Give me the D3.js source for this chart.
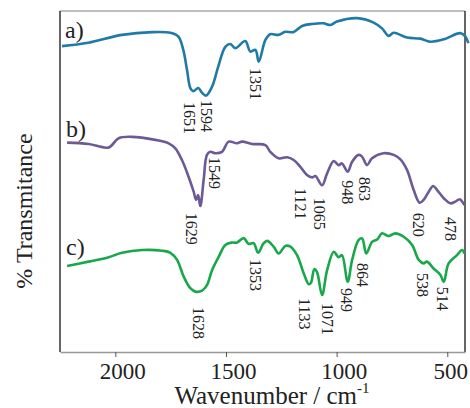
<!DOCTYPE html>
<html>
<head>
<meta charset="utf-8">
<script src="https://cdn.jsdelivr.net/npm/d3@7"></script>
<style>
body { margin: 0; background: #fff; }
text { font-family: "Liberation Serif", "Times New Roman", serif; fill: #222; }
</style>
</head>
<body>
<div id="chart"></div>
<script>
// wavenumber (cm-1) and transmittance (stacked, arbitrary %)
var waveA = [2241, 2122, 1970, 1834, 1751, 1715, 1693, 1676, 1661, 1648, 1625, 1608, 1590, 1563, 1535, 1503, 1480, 1458, 1413, 1390, 1367, 1352, 1322, 1300, 1263, 1232, 1196, 1156, 1111, 1060, 1028, 998, 908, 833, 795, 765, 742, 682, 622, 577, 516, 441, 418, 405];
var transA = [89.7, 90.7, 93.0, 93.8, 93.6, 92.5, 88.6, 82.7, 77.4, 76.5, 77.4, 76.0, 75.2, 77.8, 83.7, 89.5, 90.3, 89.1, 91.2, 88.1, 88.6, 85.1, 91.5, 93.2, 93.0, 93.9, 93.8, 95.6, 96.2, 96.4, 95.9, 96.9, 97.9, 96.6, 94.9, 92.7, 93.6, 92.2, 91.9, 91.0, 91.7, 93.5, 92.5, 90.6];

var waveB = [2218, 2121, 2030, 1985, 1925, 1819, 1759, 1729, 1699, 1669, 1646, 1635, 1626, 1616, 1601, 1586, 1571, 1548, 1518, 1488, 1450, 1427, 1382, 1322, 1300, 1262, 1224, 1194, 1164, 1134, 1111, 1096, 1066, 1043, 1013, 991, 976, 950, 930, 901, 885, 863, 840, 788, 742, 712, 682, 652, 625, 607, 584, 564, 546, 516, 486, 464, 444, 423];
var transB = [61.4, 61.0, 60.0, 62.7, 63.1, 62.2, 61.2, 59.7, 56.3, 51.4, 47.0, 44.6, 46.0, 42.8, 50.4, 57.8, 58.7, 58.3, 58.7, 61.7, 61.2, 61.7, 61.0, 60.7, 58.7, 56.8, 57.1, 56.3, 54.3, 51.9, 51.2, 51.6, 48.9, 52.4, 56.0, 54.8, 55.3, 52.9, 55.8, 57.8, 57.3, 54.8, 56.8, 58.3, 57.8, 56.5, 53.4, 47.5, 43.8, 44.6, 47.0, 48.7, 47.5, 45.1, 43.6, 44.1, 44.8, 43.1];

var waveC = [2218, 2121, 2030, 1970, 1879, 1789, 1751, 1721, 1691, 1661, 1638, 1608, 1586, 1563, 1533, 1503, 1473, 1450, 1420, 1398, 1375, 1355, 1330, 1314, 1285, 1262, 1232, 1209, 1179, 1149, 1126, 1116, 1101, 1089, 1066, 1043, 1013, 991, 976, 950, 930, 901, 885, 866, 840, 817, 795, 765, 735, 697, 659, 629, 607, 592, 562, 531, 516, 494, 456, 433, 423];
var transC = [25.2, 26.5, 27.8, 29.1, 29.9, 29.7, 29.1, 27.0, 22.1, 18.7, 17.7, 18.0, 19.6, 24.0, 27.9, 31.4, 32.1, 32.1, 33.4, 31.7, 31.9, 29.1, 31.9, 32.6, 30.9, 28.9, 31.1, 30.9, 28.4, 23.1, 19.9, 20.3, 24.3, 23.5, 16.7, 24.0, 29.4, 27.8, 28.4, 20.6, 27.0, 32.8, 33.3, 28.9, 32.3, 33.0, 34.8, 34.0, 34.8, 33.8, 31.4, 27.0, 26.0, 26.5, 24.5, 22.6, 20.6, 26.0, 28.4, 29.9, 28.9];

var seriesNames = ["a)", "b)", "c)"];
var seriesColors = ["#1f7aa6", "#6c5a96", "#18a84b"];

// peak annotations: text, wavenumber at label centre, transmittance at label top
var peaksA = [["1651", 1666, 73.3], ["1594", 1589, 73.9], ["1351", 1367, 83.3]];
var peaksB = [["1629", 1657, 40.8], ["1549", 1553, 57.2], ["1121", 1164, 48.1], ["1065", 1078, 45.2], ["948", 952, 50.4], ["863", 875, 51.3], ["620", 631, 40.8], ["478", 486, 39.6]];
var peaksC = [["1628", 1625, 13.2], ["1353", 1367, 27.3], ["1133", 1146, 15.8], ["1071", 1042, 14.4], ["949", 956, 18.8], ["864", 884, 26.1], ["538", 613, 23.2], ["514", 522, 19.1]];

var xTicks = [2000, 1500, 1000, 500];

var width = 470, height = 408;
var mLeft = 60, mRight = 465, mTop = 11, mBottom = 352;

var svg = d3.select("#chart").append("svg")
	.attr("width", width)
	.attr("height", height);

var x = d3.scaleLinear().domain([2250, 420]).range([mLeft, mRight]);
var y = d3.scaleLinear().domain([0, 100]).range([mBottom, mTop]);

// frame
svg.append("line").attr("x1", mLeft).attr("x2", mRight).attr("y1", mTop).attr("y2", mTop)
	.attr("stroke", "#aaa").attr("stroke-width", 1.5);
svg.append("line").attr("x1", mLeft).attr("x2", mLeft).attr("y1", mTop).attr("y2", mBottom)
	.attr("stroke", "#333").attr("stroke-width", 1.5);
svg.append("line").attr("x1", mRight).attr("x2", mRight).attr("y1", mTop).attr("y2", mBottom)
	.attr("stroke", "#333").attr("stroke-width", 1.5);

var xAxis = svg.append("g")
	.attr("transform", "translate(0," + mBottom + ")")
	.call(d3.axisBottom(x).tickValues(xTicks).tickFormat(d3.format("d"))
		.tickSize(5).tickSizeOuter(0).tickPadding(6));
xAxis.select(".domain").attr("stroke", "#999").attr("stroke-width", 1.5);
xAxis.selectAll(".tick line").attr("stroke", "#555");
xAxis.selectAll(".tick text")
	.attr("font-size", 23)
	.attr("font-family", "Liberation Serif, serif")
	.attr("fill", "#222")
	.attr("dx", function(d) { return d < 1000 ? 3 : 7; });

// axis titles
var xt = svg.append("text")
	.attr("x", 272).attr("y", 404)
	.attr("text-anchor", "middle")
	.attr("font-size", 25);
xt.append("tspan").text("Wavenumber / cm");
xt.append("tspan").text("-1").attr("font-size", 15).attr("dy", -11);

svg.append("text")
	.attr("transform", "translate(32,211) rotate(-90)")
	.attr("text-anchor", "middle")
	.attr("font-size", 24)
	.text("% Transmitance");

// spectra
var line = d3.line()
	.x(function(d) { return x(d[0]); })
	.y(function(d) { return y(d[1]); })
	.curve(d3.curveCatmullRom.alpha(0.5));

var spectra = [d3.zip(waveA, transA), d3.zip(waveB, transB), d3.zip(waveC, transC)];

svg.selectAll("path.spectrum")
	.data(spectra)
	.enter().append("path")
	.attr("class", "spectrum")
	.attr("d", line)
	.attr("fill", "none")
	.attr("stroke", function(d, i) { return seriesColors[i]; })
	.attr("stroke-width", 2.6)
	.attr("stroke-linejoin", "round");

// series labels
var labelPos = [[65, 38], [66, 137], [66, 255]];
svg.selectAll("text.series")
	.data(seriesNames)
	.enter().append("text")
	.attr("class", "series")
	.attr("x", function(d, i) { return labelPos[i][0]; })
	.attr("y", function(d, i) { return labelPos[i][1]; })
	.attr("font-size", 24)
	.text(function(d) { return d; });

// peak labels
var peaks = peaksA.concat(peaksB, peaksC);
svg.selectAll("text.peak")
	.data(peaks)
	.enter().append("text")
	.attr("class", "peak")
	.attr("transform", function(d) { return "translate(" + x(d[1]) + "," + y(d[2]) + ") rotate(90)"; })
	.attr("dy", "0.35em")
	.attr("font-size", 16)
	.text(function(d) { return d[0]; });
</script>
</body>
</html>
